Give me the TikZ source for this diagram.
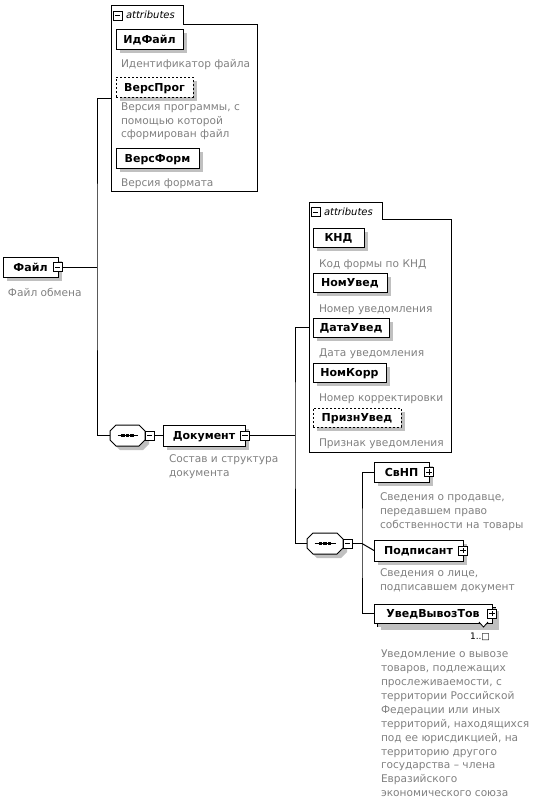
\documentclass[tikz,border=0pt]{standalone}
\usepackage{fontspec}
\setmainfont{DejaVu Sans}
\usetikzlibrary{shadows}
\definecolor{descgray}{RGB}{128,128,128}
\definecolor{shadowgray}{RGB}{192,192,192}
\begin{document}
\begin{tikzpicture}[x=1pt,y=-1pt,
  every node/.style={inner sep=0pt, outer sep=0pt},
  shad/.style={drop shadow={shadow xshift=4pt,shadow yshift=-4pt,opacity=1,fill=shadowgray}},
  elem/.style={draw=black, fill=white, line width=1pt, minimum height=20pt, anchor=north west,
     text height=9pt, text depth=1pt, font=\fontsize{11}{13}\selectfont\bfseries, shad},
  optelem/.style={elem, dash pattern=on 2pt off 2pt},
  desc/.style={anchor=north west, align=left, text=descgray,
     font=\fontsize{10.6}{13.6}\selectfont, execute at begin node={\rule{0pt}{9pt}}},
  conn/.style={draw=black, line width=1pt},
  pm/.style={draw=black, fill=white, line width=0.8pt, minimum size=9pt, inner sep=0pt},
  minusbox/.style={pm, path picture={\draw[line width=0.8pt] ([xshift=1.8pt]path picture bounding box.west) -- ([xshift=-1.8pt]path picture bounding box.east);}},
  plusbox/.style={pm, path picture={\draw[line width=0.8pt] ([xshift=1.8pt]path picture bounding box.west) -- ([xshift=-1.8pt]path picture bounding box.east);
     \draw[line width=0.8pt] ([yshift=1.8pt]path picture bounding box.south) -- ([yshift=-1.8pt]path picture bounding box.north);}},
  seqanchor/.style={anchor=north west, minimum height=21pt, inner sep=0pt},
  seqoct/.pic={
    \fill[shadowgray] (10,4) -- (#1-2,4) -- (#1+4,10) -- (#1+4,19) -- (#1-2,25) -- (10,25) -- (4,19) -- (4,10) -- cycle;
    \filldraw[fill=white, draw=black, line width=1pt] (6,0) -- (#1-6,0) -- (#1,6) -- (#1,15) -- (#1-6,21) -- (6,21) -- (0,15) -- (0,6) -- cycle;
    \draw[line width=0.8pt] (7.5,10.5) -- (#1-7.5,10.5);
    \foreach \k in {-4.5,0,4.5}{\fill ({#1/2+\k-1.6},9) rectangle ({#1/2+\k+1.6},12);}
  },
  attrbox/.style={anchor=north west, inner sep=0pt},
  tablabel/.style={anchor=west, font=\fontsize{10}{11}\selectfont\itshape}
]
\useasboundingbox (0,0) rectangle (540,809);

% ---------- root ----------
\node[elem, minimum width=55pt] (fajl) at (3,257) {Файл};
\node[minusbox] (fajlm) at (57.5,267) {};
\node[desc] (fajld) at (8,287) {Файл обмена};
\coordinate (j1) at (97,267);

% ---------- attributes 1 ----------
\node[attrbox, minimum width=146pt, minimum height=186pt] (attr1) at (111,5) {};
\draw[line width=1pt] (attr1.north west) -- (183,5) -- (183,24) -- (257,24) -- (257,191) -- (111,191) -- cycle;
\node[minusbox] (attr1m) at (117.5,15.5) {};
\node[tablabel] (attr1t) at (126,15) {attributes};

\node[elem, minimum width=67pt] (idfajl) at (116,29) {ИдФайл};
\node[desc] (idfajld) at (121,58) {Идентификатор файла};
\node[optelem, minimum width=77pt] (versprog) at (116,77) {ВерсПрог};
\node[desc] (versprogd) at (121,103) {Версия программы, с\\помощью которой\\сформирован файл};
\node[elem, minimum width=83pt] (versform) at (116,148) {ВерсФорм};
\node[desc] (versformd) at (121,177) {Версия формата};

% ---------- sequence 1 & Документ ----------
\pic at (110,425) {seqoct=35};
\node[seqanchor, minimum width=35pt] (seq1) at (110,425) {};
\node[minusbox] (seq1m) at (149.5,435.5) {};
\node[elem, minimum width=82pt, minimum height=21pt] (doc) at (163,425) {Документ};
\node[minusbox] (docm) at (245,435.5) {};
\node[desc] (docd) at (169,455) {Состав и структура\\документа};
\coordinate (j2) at (295,435.5);

% ---------- attributes 2 ----------
\node[attrbox, minimum width=142pt, minimum height=250pt] (attr2) at (309,202) {};
\draw[line width=1pt] (attr2.north west) -- (382,202) -- (382,219) -- (451,219) -- (451,452) -- (309,452) -- cycle;
\node[minusbox] (attr2m) at (315.5,212) {};
\node[tablabel] (attr2t) at (324,211.5) {attributes};

\node[elem, minimum width=51pt, minimum height=19pt] (knd) at (313,228) {КНД};
\node[desc] (kndd) at (319,258) {Код формы по КНД};
\node[elem, minimum width=74pt, minimum height=19pt] (nomuved) at (313,273) {НомУвед};
\node[desc] (nomuvedd) at (319,303) {Номер уведомления};
\node[elem, minimum width=76pt, minimum height=19pt] (datauved) at (313,318) {ДатаУвед};
\node[desc] (datauvedd) at (319,347) {Дата уведомления};
\node[elem, minimum width=73pt, minimum height=19pt] (nomkorr) at (313,363) {НомКорр};
\node[desc] (nomkorrd) at (319,392) {Номер корректировки};
\node[optelem, minimum width=88pt, minimum height=19pt] (priznuved) at (313,408) {ПризнУвед};
\node[desc] (priznuvedd) at (319,437) {Признак уведомления};

% ---------- sequence 2 & children ----------
\pic at (307,533) {seqoct=36};
\node[seqanchor, minimum width=36pt] (seq2) at (307,533) {};
\node[minusbox] (seq2m) at (347.5,543.5) {};
\coordinate (j3) at (362,543.5);

\node[elem, minimum width=55pt] (svnp) at (374,462) {СвНП\hspace{6pt}};
\node[plusbox] (svnpp) at (429,472) {};
\node[desc] (svnpd) at (380,493) {Сведения о продавце,\\передавшем право\\собственности на товары};

\node[elem, minimum width=89pt, minimum height=21pt] (podp) at (374,540) {Подписант\hspace{6pt}};
\node[plusbox] (podpp) at (463,550.5) {};
\node[desc] (podpd) at (380,569) {Сведения о лице,\\подписавшем документ};

\node[elem, minimum width=118pt, minimum height=19pt] (uvtback) at (377,607) {};
\node[elem, minimum width=118pt, minimum height=19pt, drop shadow={opacity=0}] (uvt) at (374,604) {УведВывозТов\hspace{6pt}};
\node[plusbox] (uvtp) at (492,613.5) {};
\filldraw[fill=white, draw=black, line width=0.8pt] (479,622) -- (483.5,627) -- (488,622);
\node[anchor=center, font=\fontsize{9}{10}\selectfont] (uvtcard) at (480,637) {1..□};
\node[desc, font=\fontsize{10.6}{13.9}\selectfont] (uvtd) at (381,650) {Уведомление о вывозе\\товаров, подлежащих\\прослеживаемости, с\\территории Российской\\Федерации или иных\\территорий, находящихся\\под ее юрисдикцией, на\\территорию другого\\государства – члена\\Евразийского\\экономического союза};

% ---------- connectors ----------
\draw[conn] (fajlm.east) -- (j1);
\draw[conn] (attr1.west) -| (j1) |- (seq1.west);
\draw[conn] (seq1m.east) -- (doc.west);
\draw[conn] (docm.east) -- (j2);
\draw[conn] (attr2.west) -| (j2) |- (seq2.west);
\draw[conn] (seq2m.east) -- (j3);
\draw[conn] (svnp.west) -| (j3) |- (uvt.west);
\draw[conn] (j3) -- (podp.west);
\end{tikzpicture}
\end{document}
